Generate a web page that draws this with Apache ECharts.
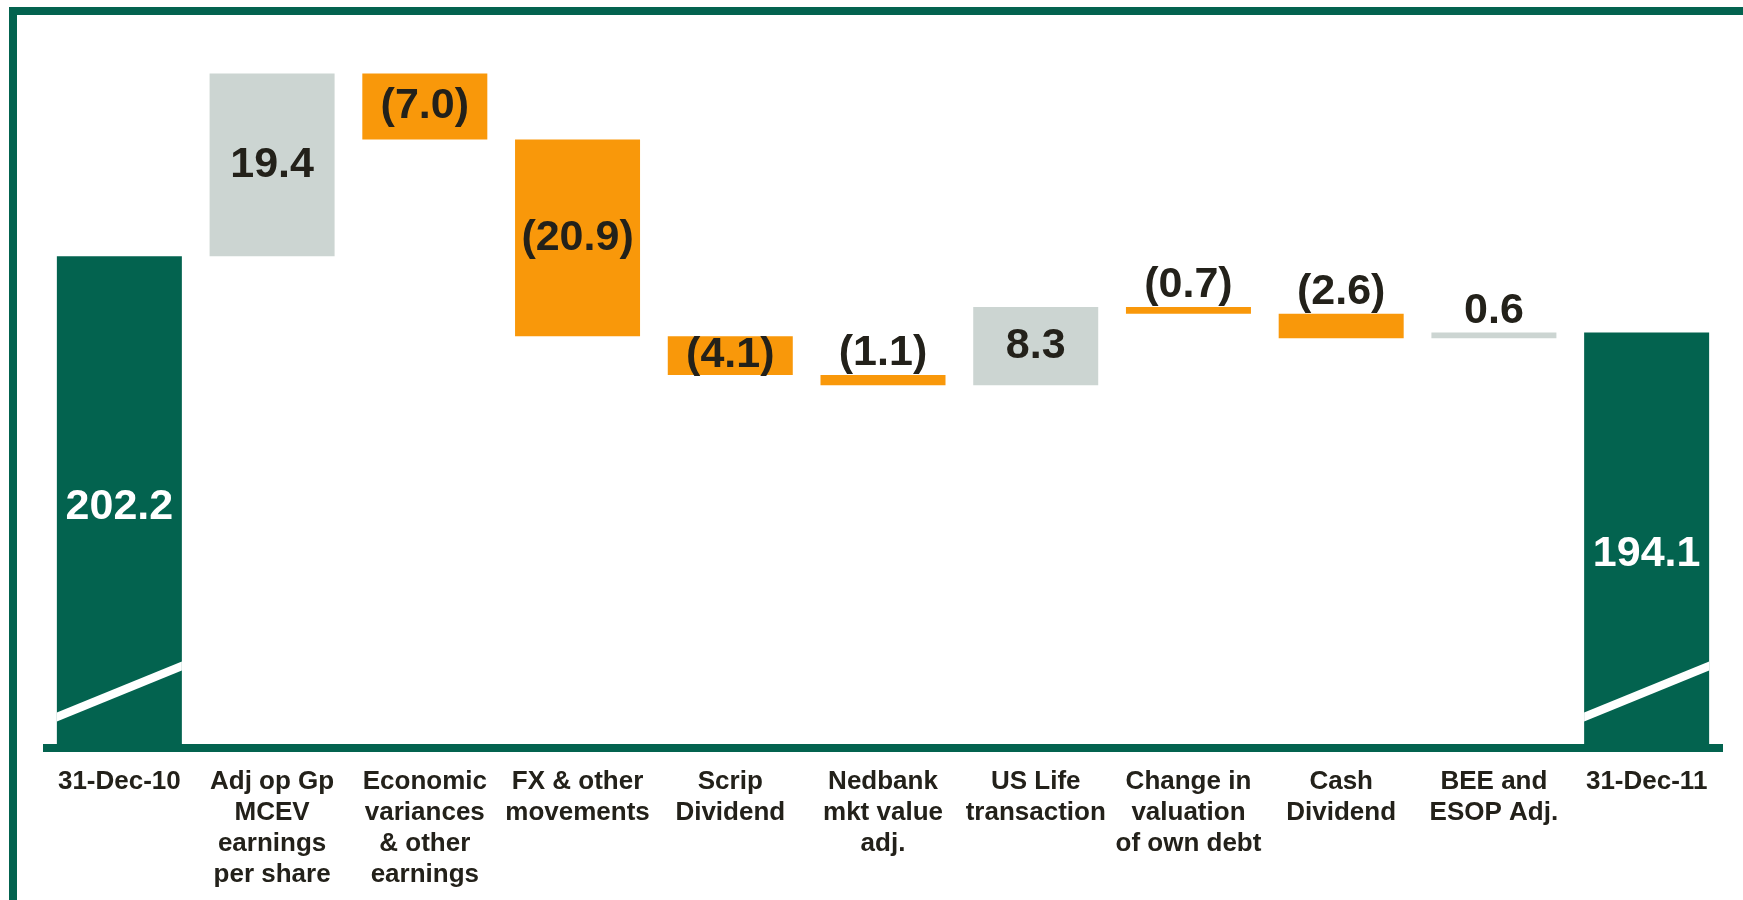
<!DOCTYPE html>
<html>
<head>
<meta charset="utf-8">
<script src="https://cdn.jsdelivr.net/npm/echarts@6/dist/echarts.min.js"></script>
<style>
  html, body { margin: 0; padding: 0; background: #fff; }
  #chart { position: absolute; left: 0; top: 0; width: 1743px; height: 900px; }
  #frame {
    position: absolute; left: 9px; top: 7px; width: 1760px; height: 920px;
    border-left: 8px solid #03634f; border-top: 8px solid #03634f;
    pointer-events: none;
  }
</style>
</head>
<body>
<div id="chart"></div>
<div id="frame"></div>
<script>
// waterfall: opening value, the changes, closing value
const categories = [
    '31-Dec-10',
    'Adj op Gp\nMCEV\nearnings\nper share',
    'Economic\nvariances\n& other\nearnings',
    'FX & other\nmovements',
    'Scrip\nDividend',
    'Nedbank\nmkt value\nadj.',
    'US Life\ntransaction',
    'Change in\nvaluation\nof own debt',
    'Cash\nDividend',
    'BEE and\nESOP Adj.',
    '31-Dec-11',
]
const openValue = 202.2
const closeValue = 194.1
const changes = [null, 19.4, -7.0, -20.9, -4.1, -1.1, 8.3, -0.7, -2.6, 0.6, null]
// axis break drawn across the two total bars: [category index, value at left edge, value at right edge]
const breaks = [
    [0, 153.3, 158.7],
    [10, 153.3, 158.7],
]

const GREEN = '#03634f'
const ORANGE = '#f9980a'
const GREY = '#ccd5d2'
const TEXT = '#23211a'
const FONT = '"Liberation Sans", Arial, sans-serif'

const baseData = []
const totalData = []
const upData = []
const downData = []
let running = openValue
changes.forEach((c, i) => {
    if (c === null) {
        const v = i === 0 ? openValue : closeValue
        baseData.push('-')
        totalData.push({
            value: v,
            label: { offset: i === 0 ? [0, 5] : [0, 14] },
        })
        upData.push('-')
        downData.push('-')
        return
    }
    const next = running + c
    baseData.push(+Math.min(running, next).toFixed(1))
    totalData.push('-')
    const small = Math.abs(c) < 4
    const item = {
        value: Math.abs(c),
        label: { position: small ? 'top' : 'inside' },
    }
    if (c >= 0) {
        upData.push(item)
        downData.push('-')
    } else {
        upData.push('-')
        downData.push(item)
    }
    running = next
})

const valueLabel = {
    show: true,
    fontFamily: FONT,
    fontWeight: 'bold',
    fontSize: 43,
    lineHeight: 43,
    color: TEXT,
    distance: 0,
}

const chart = echarts.init(document.getElementById('chart'))
chart.setOption({
    animation: false,
    grid: { left: 43, right: 20, top: 32, bottom: 152 },
    xAxis: {
        type: 'category',
        data: categories,
        axisLine: { lineStyle: { color: GREEN, width: 8, cap: 'butt' } },
        axisTick: { show: false },
        axisLabel: {
            interval: 0,
            margin: 18,
            fontFamily: FONT,
            fontWeight: 'bold',
            fontSize: 26,
            lineHeight: 31,
            color: TEXT,
        },
    },
    yAxis: {
        type: 'value',
        min: 150,
        max: 226,
        show: false,
        splitLine: { show: false },
    },
    series: [
        {
            name: 'base',
            type: 'bar',
            stack: 'wf',
            barWidth: 125,
            itemStyle: { color: 'transparent' },
            data: baseData,
            silent: true,
        },
        {
            name: 'total',
            type: 'bar',
            stack: 'wf',
            barWidth: 125,
            itemStyle: { color: GREEN },
            label: {
                ...valueLabel,
                position: 'inside',
                color: '#fff',
                formatter: p => p.value.toFixed(1),
            },
            data: totalData,
        },
        {
            name: 'increase',
            type: 'bar',
            stack: 'wf',
            barWidth: 125,
            itemStyle: { color: GREY },
            label: { ...valueLabel, formatter: p => p.value.toFixed(1) },
            data: upData,
        },
        {
            name: 'decrease',
            type: 'bar',
            stack: 'wf',
            barWidth: 125,
            itemStyle: { color: ORANGE },
            label: { ...valueLabel, formatter: p => `(${p.value.toFixed(1)})` },
            data: downData,
        },
        {
            name: 'break',
            type: 'custom',
            silent: true,
            z: 5,
            encode: { x: 0, y: [1, 2] },
            data: breaks,
            renderItem(params, api) {
                const idx = api.value(0)
                const half = 62.5
                const l = api.coord([idx, api.value(1)])
                const r = api.coord([idx, api.value(2)])
                return {
                    type: 'polygon',
                    shape: {
                        points: [
                            [l[0] - half, l[1] - 4.5],
                            [r[0] + half, r[1] - 4.5],
                            [r[0] + half, r[1] + 4.5],
                            [l[0] - half, l[1] + 4.5],
                        ],
                    },
                    style: { fill: '#fff' },
                }
            },
        },
    ],
})
</script>
</body>
</html>
